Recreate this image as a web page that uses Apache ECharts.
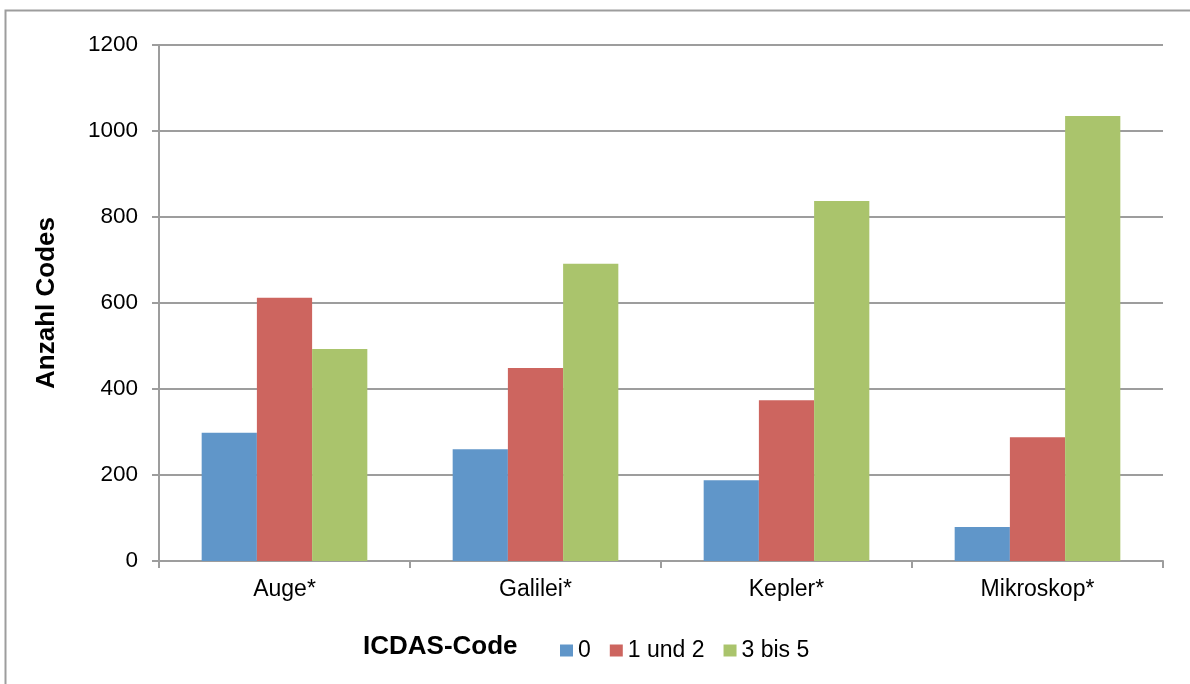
<!DOCTYPE html>
<html>
<head>
<meta charset="utf-8">
<script src="https://cdn.jsdelivr.net/npm/echarts@6/dist/echarts.min.js"></script>
<style>
html,body{margin:0;padding:0;background:#fff;}
#chart{width:1190px;height:684px;}
</style>
</head>
<body>
<div id="chart"></div>
<script>
const categories = ['Auge*', 'Galilei*', 'Kepler*', 'Mikroskop*'];
const seriesNames = ['0', '1 und 2', '3 bis 5'];
const values0 = [298, 260, 188, 79];
const values12 = [612, 449, 374, 288];
const values35 = [493, 691, 837, 1035];
const yTicks = [0, 200, 400, 600, 800, 1000, 1200];
const colors = ['#6096c9', '#cd655f', '#aac46c'];

const font = '"Liberation Sans", Arial, sans-serif';
const chart = echarts.init(document.getElementById('chart'));
const seriesData = [values0, values12, values35];
chart.setOption({
  animation: false,
  backgroundColor: '#fff',
  textStyle: { fontFamily: font },
  grid: { left: 159, right: 27, top: 45, bottom: 123, containLabel: false },
  legend: {
    data: seriesNames,
    left: 555, top: 634,
    itemWidth: 13, itemHeight: 12, itemGap: 19,
    icon: 'rect',
    textStyle: { fontSize: 23, color: '#000', fontFamily: font }
  },
  graphic: [
    { type: 'rect', shape: { x: 5.5, y: 10.5, width: 1300, height: 800 }, style: { fill: 'none', stroke: '#9d9d9d', lineWidth: 2 }, silent: true },
    { type: 'text', left: 363, top: 634, style: { text: 'ICDAS-Code', font: 'bold 26px "Liberation Sans", Arial, sans-serif', fill: '#000' } }
  ],
  xAxis: {
    type: 'category',
    data: categories,
    axisLine: { lineStyle: { color: '#9d9d9d', width: 2 } },
    axisTick: { show: true, length: 7, lineStyle: { color: '#9d9d9d', width: 2 } },
    axisLabel: { fontSize: 23, color: '#000', margin: 17, fontFamily: font }
  },
  yAxis: {
    type: 'value',
    min: 0, max: 1200, interval: 200,
    name: 'Anzahl Codes',
    nameLocation: 'middle',
    nameGap: 99,
    nameTextStyle: { fontSize: 26, fontWeight: 'bold', color: '#000', fontFamily: font },
    axisLine: { show: true, lineStyle: { color: '#9d9d9d', width: 2 } },
    axisTick: { show: true, length: 7, lineStyle: { color: '#9d9d9d', width: 2 } },
    axisLabel: { fontSize: 22.5, color: '#000', margin: 21, fontFamily: font,
      formatter: v => yTicks.includes(v) ? String(v) : '' },
    splitLine: { lineStyle: { color: '#9d9d9d', width: 2 } }
  },
  series: seriesNames.map((n, i) => ({
    name: n,
    type: 'bar',
    data: seriesData[i],
    itemStyle: { color: colors[i] },
    barGap: '0%',
    barCategoryGap: '34%'
  }))
});
</script>
</body>
</html>
